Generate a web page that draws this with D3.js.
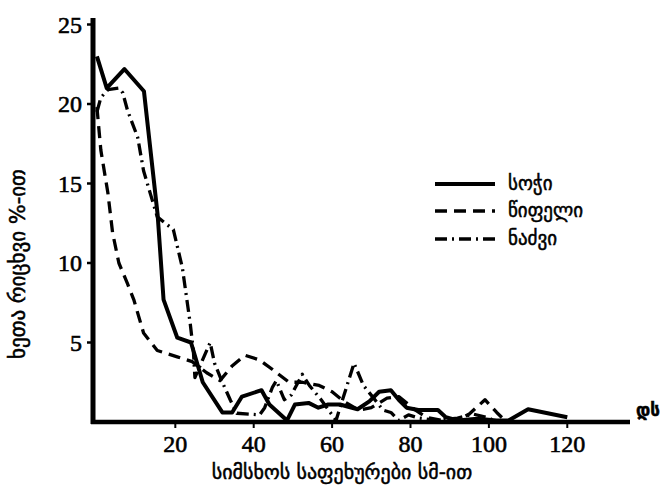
<!DOCTYPE html>
<html>
<head>
<meta charset="utf-8">
<script src="https://cdn.jsdelivr.net/npm/d3@7"></script>
<style>
  body { margin: 0; background: #fff; }
  .tick-label { font-family: "Liberation Serif", serif; font-size: 24px; fill: #000; stroke: #000; stroke-width: 0.6; }
  .geo { font-family: "DejaVu Sans", sans-serif; fill: #000; stroke: #000; stroke-width: 0.5; }
</style>
</head>
<body>
<svg width="662" height="486"></svg>
<script>
// diameter steps (cm) and % of trees
let sochiX  = [0, 2.5, 7, 12, 15.5, 17, 20.5, 24, 27, 32, 34.5, 37, 42, 44, 48.5, 50.5, 54, 56.5, 59, 62, 66.5, 69.5, 72, 75, 77, 79, 82, 87, 89, 92, 97, 102, 105, 110, 120]
let sochiY  = [23, 21, 22.2, 20.8, 13, 7.7, 5.3, 5, 2.5, 0.6, 0.6, 1.6, 2, 1.1, 0.1, 1.1, 1.2, 0.9, 1.1, 1.1, 0.8, 1.3, 1.9, 2.0, 1.4, 0.9, 0.75, 0.75, 0.3, 0.1, 0.2, 0.1, 0.1, 0.8, 0.3]

let tsipeliX = [0, 1, 2.8, 4, 5.6, 7.8, 9.4, 11.9, 15.4, 20.5, 24.3, 28, 31.4, 34.4, 37.7, 41.5, 44.8, 49, 52.4, 56.7, 60, 63, 66.8, 70, 74, 77, 81, 84, 88, 92, 95, 99, 102, 104.5, 110]
let tsipeliY = [19.8, 17.1, 14.4, 11.9, 10, 8.7, 7.7, 5.6, 4.5, 4.1, 3.8, 3.1, 2.6, 3.5, 4.2, 3.9, 3.3, 2.5, 2.5, 2.3, 1.9, 1.3, 0.75, 0.9, 1.5, 1.6, 0.8, 0.3, 0.1, 0.1, 0.5, 1.4, 0.6, 0, 0]

let nadzviX = [0, 1, 2.8, 5.6, 6.6, 7.8, 10.4, 11.9, 13.7, 15.4, 19.5, 21.8, 23.8, 24.6, 25, 28.9, 30, 32, 34, 35.7, 41.5, 42.8, 44.8, 45.8, 47.8, 49.6, 52.4, 54.2, 57.2, 61, 65.6, 68, 70.6, 73, 75, 77, 79.5, 82, 87, 92, 96, 100, 102]
let nadzviY = [19.5, 20.4, 20.9, 21, 20.7, 19.6, 17.9, 15.8, 14.3, 12.9, 12.1, 9.7, 6.2, 4.5, 2.8, 5.0, 3.7, 2.5, 1.4, 0.55, 0.45, 0.9, 2.2, 2.6, 1.4, 1.7, 3.0, 2.3, 1.4, 0.1, 3.7, 2.3, 1.5, 0.75, 0.6, 0.1, 0.45, 0.25, 0.1, 0.25, 0.5, 0.25, 0]

let xTicks = [20, 40, 60, 80, 100, 120]
let yTicks = [5, 10, 15, 20, 25]

let seriesNames = ['სოჭი', 'წიფელი', 'ნაძვი']
let seriesDash  = [null, '12,7', '12,5,2,5']

let svg = d3.select('svg')

let x = d3.scaleLinear().domain([-1, 136]).range([93, 630])
let y = d3.scaleLinear().domain([0, 25]).range([422, 24.5])

// axes, drawn as thick lines like the printed figure
svg.append('line')
  .attr('x1', x(-1)).attr('x2', x(-1))
  .attr('y1', 18).attr('y2', y(0) + 2)
  .attr('stroke', '#000').attr('stroke-width', 5)

svg.append('line')
  .attr('x1', x(-1) - 2).attr('x2', x(136))
  .attr('y1', y(0)).attr('y2', y(0))
  .attr('stroke', '#000').attr('stroke-width', 4.5)

svg.selectAll('.ytick')
  .data(yTicks)
  .enter()
  .append('line')
  .attr('x1', x(-1) - 6).attr('x2', x(-1))
  .attr('y1', d => y(d)).attr('y2', d => y(d))
  .attr('stroke', '#000').attr('stroke-width', 2.5)

svg.selectAll('.ylab')
  .data(yTicks)
  .enter()
  .append('text')
  .attr('class', 'tick-label')
  .attr('x', 82)
  .attr('y', d => y(d) + 8)
  .attr('text-anchor', 'end')
  .text(d => d)

svg.selectAll('.xtick')
  .data(xTicks)
  .enter()
  .append('line')
  .attr('x1', d => x(d)).attr('x2', d => x(d))
  .attr('y1', y(0)).attr('y2', y(0) + 6)
  .attr('stroke', '#000').attr('stroke-width', 2)

svg.selectAll('.xlab')
  .data(xTicks)
  .enter()
  .append('text')
  .attr('class', 'tick-label')
  .attr('x', d => x(d))
  .attr('y', 452)
  .attr('text-anchor', 'middle')
  .text(d => d)

// series lines
let line = d3.line()
  .x(d => x(d[0]))
  .y(d => y(d[1]))

let series = [
  d3.zip(sochiX, sochiY),
  d3.zip(tsipeliX, tsipeliY),
  d3.zip(nadzviX, nadzviY)
]

svg.selectAll('.series')
  .data(series)
  .enter()
  .append('path')
  .attr('d', line)
  .attr('fill', 'none')
  .attr('stroke', '#000')
  .attr('stroke-width', (d, i) => i === 0 ? 4 : 3.3)
  .attr('stroke-linejoin', 'round')
  .attr('stroke-dasharray', (d, i) => seriesDash[i])

// legend
let legend = svg.selectAll('.legend')
  .data(seriesNames)
  .enter()
  .append('g')
  .attr('transform', (d, i) => 'translate(435,' + [184, 211, 239][i] + ')')

legend.append('line')
  .attr('x1', 0).attr('x2', 60)
  .attr('stroke', '#000')
  .attr('stroke-width', (d, i) => i === 0 ? 4 : 3.3)
  .attr('stroke-dasharray', (d, i) => seriesDash[i])

legend.append('text')
  .attr('class', 'geo')
  .attr('x', 73)
  .attr('y', 6)
  .style('font-size', '19px')
  .text(d => d)

// axis titles
svg.append('text')
  .attr('class', 'geo')
  .attr('transform', 'translate(25,264) rotate(-90)')
  .attr('text-anchor', 'middle')
  .style('font-size', '21px')
  .text('ხეთა რიცხვი %-ით')

svg.append('text')
  .attr('class', 'geo')
  .attr('x', 342)
  .attr('y', 479)
  .attr('text-anchor', 'middle')
  .style('font-size', '20px')
  .text('სიმსხოს საფეხურები სმ-ით')

svg.append('text')
  .attr('class', 'geo')
  .attr('x', 636)
  .attr('y', 416)
  .style('font-size', '17px')
  .style('font-weight', 'bold')
  .text('დს')
</script>
</body>
</html>
